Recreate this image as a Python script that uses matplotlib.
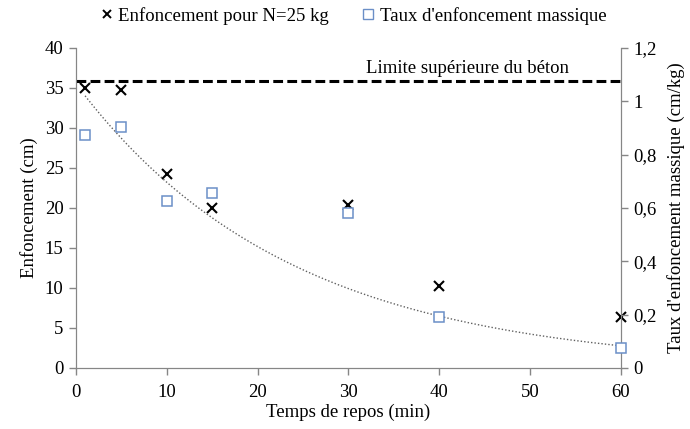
import matplotlib
matplotlib.use("Agg")
import matplotlib.pyplot as plt
import numpy as np
from matplotlib.lines import Line2D
from matplotlib.ticker import FuncFormatter

plt.rcParams['font.family'] = ['Liberation Serif', 'DejaVu Serif']

# Data
temps = [1, 5, 10, 15, 30, 40, 60]
enfoncement = [35.0, 34.7, 24.2, 20.0, 20.4, 10.2, 6.4]
taux_massique = [0.874, 0.905, 0.626, 0.657, 0.58, 0.19, 0.075]
limite_beton = 35.9
# Exponential trendline on taux_massique: y = a * exp(b * x)
trend_a = 1.065
trend_b = -0.0425
x_ticks = [0, 10, 20, 30, 40, 50, 60]
left_ticks = [0, 5, 10, 15, 20, 25, 30, 35, 40]
right_ticks = [0, 0.2, 0.4, 0.6, 0.8, 1.0, 1.2]

grey = '#868686'
blue = '#6b8fc7'
fs = 13.5

fig = plt.figure(figsize=(6.9, 4.29), dpi=100)
ax = fig.add_axes([76/690, 1-368/429, (621-76)/690, (368-48)/429])
ax2 = ax.twinx()

ax.set_xlim(0, 60)
ax.set_ylim(0, 40)
ax2.set_ylim(0, 1.2)

# limit line
ax.plot([0, 60], [limite_beton, limite_beton], color='black', lw=2.2,
        linestyle=(0, (3.2, 1.4)), zorder=3)
ax.text(54.3, limite_beton + 0.5, 'Limite supérieure du béton', ha='right',
        va='bottom', fontsize=fs)

# trendline
xt = np.linspace(temps[0], temps[-1], 200)
ax2.plot(xt, trend_a * np.exp(trend_b * xt), color='#606060', lw=1.0,
         linestyle=(0, (1, 1.5)), zorder=2)

ax.plot(temps, enfoncement, linestyle='none', marker='x', color='black',
        markersize=6.5, markeredgewidth=1.5, zorder=5, clip_on=False)
ax2.plot(temps, taux_massique, linestyle='none', marker='s', markerfacecolor='white',
         markeredgecolor=blue, markersize=6.5, markeredgewidth=1.1, zorder=5, clip_on=False)

ax.set_xticks(x_ticks)
ax.set_yticks(left_ticks)
ax2.set_yticks(right_ticks)
ax2.yaxis.set_major_formatter(FuncFormatter(lambda v, p: ('%g' % round(v, 1)).replace('.', ',')))

for a in (ax, ax2):
    for s in a.spines.values():
        s.set_color(grey)
    a.spines['top'].set_visible(False)
    a.tick_params(colors=grey, labelcolor='black', labelsize=fs, length=5, width=1,
                  direction='out', pad=4)
ax.tick_params(axis='x', pad=6.5)

ax.set_xlabel('Temps de repos (min)', fontsize=fs, labelpad=2)
ax.set_ylabel('Enfoncement (cm)', fontsize=fs, labelpad=5)
ax2.set_ylabel("Taux d'enfoncement massique (cm/kg)", fontsize=fs, labelpad=7)

handles = [
    Line2D([], [], linestyle='none', marker='x', color='black', markersize=6, markeredgewidth=1.4),
    Line2D([], [], linestyle='none', marker='s', markerfacecolor='white',
           markeredgecolor=blue, markersize=6.5, markeredgewidth=1.0),
]
fig.legend(handles, ['Enfoncement pour N=25 kg', "Taux d'enfoncement massique"],
           loc='center', bbox_to_anchor=(352/690, 1-16/429), ncol=2, frameon=False,
           fontsize=fs, handletextpad=0.1, columnspacing=1.6, handlelength=1.0)

fig.savefig('out.png', dpi=100)
